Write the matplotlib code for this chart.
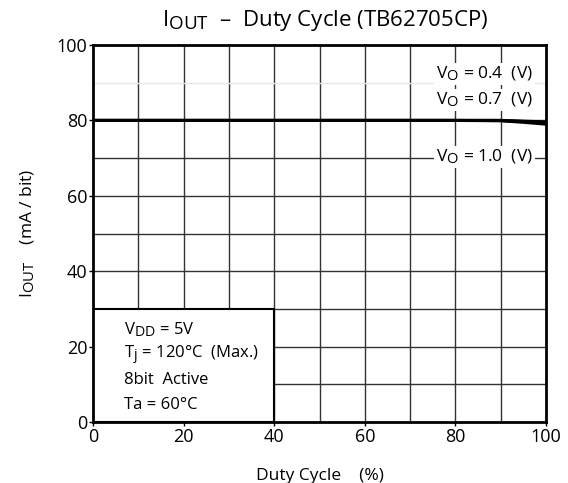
import matplotlib.pyplot as plt
import matplotlib._mathtext as mt
from matplotlib.patches import Rectangle

plt.rcParams['font.family'] = ['Open Sans', 'DejaVu Sans']
plt.rcParams['mathtext.fontset'] = 'custom'
plt.rcParams['mathtext.rm'] = 'Open Sans'
plt.rcParams['mathtext.it'] = 'Open Sans'
mt.SHRINK_FACTOR = 0.85  # subscripts in the datasheet are nearly full size

# --- data ---
duty = [0, 20, 40, 60, 80, 90, 95, 100]
iout_04 = [80, 80, 80, 80, 80, 80, 79.8, 79.6]
iout_07 = [80, 80, 80, 80, 80, 80, 79.7, 79.3]
iout_10 = [80, 80, 80, 80, 80, 79.9, 79.5, 79.0]

x_ticks = [0, 20, 40, 60, 80, 100]
y_ticks = [0, 20, 40, 60, 80, 100]

fig = plt.figure(figsize=(5.68, 4.83), dpi=100)
ax = fig.add_axes([0.1637, 0.1263, 0.7976, 0.7805])

# grid every 10
for gx in range(10, 100, 10):
    ax.axvline(gx, color='#333333', lw=1.0, zorder=1)
for gy in range(10, 100, 10):
    c = '#e6e6e6' if gy == 90 else '#333333'
    ax.axhline(gy, color=c, lw=1.0, zorder=1)

for y in (iout_04, iout_07, iout_10):
    ax.plot(duty, y, color='black', lw=2.2, zorder=3)

# conditions box
ax.add_patch(Rectangle((0, 0), 40, 30, facecolor='white', edgecolor='black',
                       lw=1.5, zorder=4))
cond = [r'V$_{\mathrm{DD}}$ = 5V', r'T$_{\mathrm{j}}$ = 120°C  (Max.)',
        '8bit  Active', 'Ta = 60°C']
for txt, yy in zip(cond, [24.4, 17.8, 11.2, 4.5]):
    ax.text(6.8, yy, txt, fontsize=12, va='center', ha='left', zorder=5)

bb = dict(facecolor='white', edgecolor='none', pad=1.5)
ax.text(86.5, 92.3, r'V$_{\mathrm{O}}$ = 0.4  (V)', fontsize=12.5, ha='center',
        va='center', bbox=bb, zorder=5)
ax.text(86.5, 85.4, r'V$_{\mathrm{O}}$ = 0.7  (V)', fontsize=12.5, ha='center',
        va='center', bbox=bb, zorder=5)
ax.text(86.5, 70.3, r'V$_{\mathrm{O}}$ = 1.0  (V)', fontsize=12.5, ha='center',
        va='center', bbox=bb, zorder=5)

ax.set_xlim(0, 100)
ax.set_ylim(0, 100)
ax.set_xticks(x_ticks)
ax.set_yticks(y_ticks)
ax.tick_params(direction='out', length=3, width=1, labelsize=13, pad=1)
for s in ax.spines.values():
    s.set_linewidth(2)
    s.set_zorder(6)

ax.set_xlabel('Duty Cycle    (%)', fontsize=12.5, labelpad=16)
ax.set_ylabel(r'I$_{\mathrm{OUT}}$    (mA / bit)', fontsize=12.5, labelpad=14)
fig.text(0.572, 0.957, r'I$_{\mathrm{OUT}}$  –  Duty Cycle (TB62705CP)',
         fontsize=16, ha='center', va='center')

fig.savefig('out.png', dpi=100)
